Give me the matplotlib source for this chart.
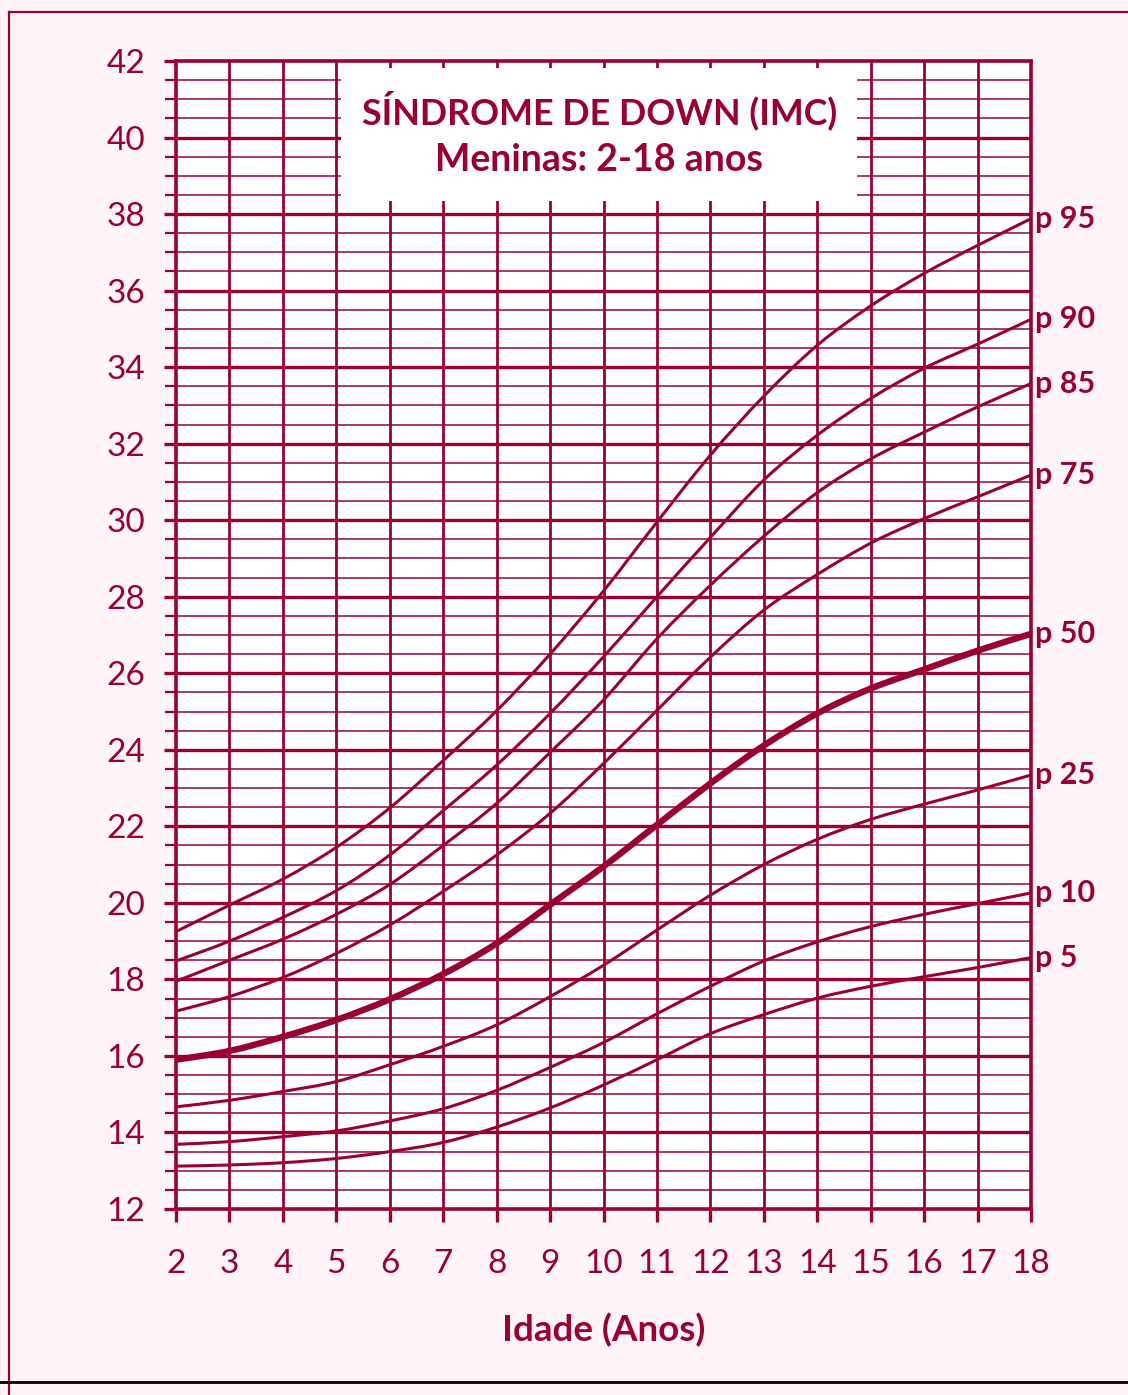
import matplotlib
matplotlib.use("Agg")
import matplotlib.pyplot as plt
from matplotlib.patches import Rectangle, PathPatch
from matplotlib.path import Path
from matplotlib.lines import Line2D
import numpy as np

# ---------------- data ----------------
ages = [2, 3, 4, 5, 6, 7, 8, 9, 10, 11, 12, 13, 14, 15, 16, 17, 18]
p95 = [19.25, 19.94, 20.62, 21.45, 22.48, 23.72, 25.02, 26.5, 28.15, 29.95, 31.7, 33.24, 34.57, 35.6, 36.45, 37.18, 37.88]
p90 = [18.48, 19.0, 19.62, 20.32, 21.25, 22.41, 23.6, 24.95, 26.43, 28.0, 29.55, 31.05, 32.22, 33.18, 33.97, 34.6, 35.25]
p85 = [17.95, 18.5, 19.05, 19.7, 20.48, 21.5, 22.6, 23.93, 25.3, 26.9, 28.3, 29.58, 30.72, 31.6, 32.3, 32.96, 33.57]
p75 = [17.17, 17.55, 18.05, 18.68, 19.42, 20.3, 21.25, 22.34, 23.64, 25.03, 26.42, 27.65, 28.58, 29.4, 30.04, 30.61, 31.18]
p50 = [15.9, 16.13, 16.5, 16.94, 17.48, 18.14, 18.94, 19.95, 20.95, 22.04, 23.12, 24.11, 24.95, 25.6, 26.1, 26.59, 27.03]
p25 = [14.67, 14.84, 15.07, 15.33, 15.77, 16.25, 16.81, 17.55, 18.37, 19.29, 20.2, 21.0, 21.66, 22.18, 22.58, 22.95, 23.34]
p10 = [13.69, 13.76, 13.89, 14.04, 14.3, 14.62, 15.1, 15.7, 16.35, 17.1, 17.82, 18.48, 18.98, 19.38, 19.7, 19.98, 20.26]
p5 = [13.12, 13.15, 13.21, 13.32, 13.5, 13.74, 14.14, 14.64, 15.24, 15.9, 16.58, 17.08, 17.51, 17.82, 18.07, 18.31, 18.57]

series = [p95, p90, p85, p75, p50, p25, p10, p5]
series_labels = ["p 95", "p 90", "p 85", "p 75", "p 50", "p 25", "p 10", "p 5"]

x_ticks = list(range(2, 19))
y_ticks = list(range(12, 43, 2))

title_lines = ["SÍNDROME DE DOWN (IMC)", "Meninas: 2-18 anos"]
xlabel = "Idade (Anos)"

# ---------------- style ----------------
RED = "#990033"
MINOR = "#A6234F"
BG = "#FFF5F9"
FONT = ["Lato", "DejaVu Sans"]
plt.rcParams["font.family"] = FONT

W, H = 1128, 1395
fig = plt.figure(figsize=(W / 100, H / 100), dpi=100)
fig.patch.set_facecolor(BG)

left, right, top, bottom = 176, 1031, 61, 1209
ax = fig.add_axes([left / W, 1 - bottom / H, (right - left) / W, (bottom - top) / H])
ax.set_facecolor("white")
ax.set_xlim(2, 18)
ax.set_ylim(12, 42)

# grid
for v in np.arange(12.5, 42, 0.5):
    if v % 2 == 0:
        ax.axhline(v, color=RED, lw=2.4, zorder=1)
    else:
        ax.axhline(v, color=MINOR, lw=1.4, zorder=1, alpha=0.9)
for xv in x_ticks[1:-1]:
    ax.axvline(xv, color=RED, lw=2.0, zorder=1)

# title box
ax.add_patch(Rectangle((5.08, 38.35), 14.75 - 5.08, 41.83 - 38.35,
                       facecolor="white", edgecolor="none", zorder=2))
ax.text(9.92, 40.72, title_lines[0], ha="center", va="center", fontsize=25.8,
        fontweight="bold", color=RED, zorder=3)
ax.text(9.92, 39.4, title_lines[1], ha="center", va="center", fontsize=27,
        fontweight="bold", color=RED, zorder=3)


def smooth_path(xs, ys):
    """Catmull-Rom spline through the data points, as cubic Bezier segments."""
    xs = np.asarray(xs, float)
    ys = np.asarray(ys, float)
    pts = np.column_stack([xs, ys])
    n = len(pts)
    verts = [pts[0]]
    codes = [Path.MOVETO]
    for i in range(n - 1):
        p0 = pts[i - 1] if i > 0 else pts[i]
        p1 = pts[i]
        p2 = pts[i + 1]
        p3 = pts[i + 2] if i + 2 < n else pts[i + 1]
        c1 = p1 + (p2 - p0) / 6.0
        c2 = p2 - (p3 - p1) / 6.0
        verts += [c1, c2, p2]
        codes += [Path.CURVE4] * 3
    return Path(verts, codes)


# curves
for s, lab in zip(series, series_labels):
    lw = 4.6 if lab == "p 50" else 2.2
    ax.add_patch(PathPatch(smooth_path(ages, s), facecolor="none",
                           edgecolor=RED, lw=lw, zorder=4, capstyle="butt"))
    ax.text(18.07, s[-1], lab, ha="left", va="center", fontsize=22,
            fontweight="bold", color=RED, clip_on=False)

# spines / ticks
for sp in ax.spines.values():
    sp.set_color(RED)
    sp.set_linewidth(2.6)
    sp.set_zorder(5)

ax.set_xticks(x_ticks)
ax.set_yticks(y_ticks)
ax.set_yticks(np.arange(12, 42.01, 0.5), minor=True)
ax.tick_params(axis="both", which="major", colors=RED, labelsize=24,
               length=9, width=2.4, direction="out")
ax.tick_params(axis="y", which="minor", colors=RED, length=8, width=1.6)
ax.tick_params(axis="x", which="major", pad=20)
ax.tick_params(axis="y", which="major", pad=13)
for lbl in ax.get_xticklabels() + ax.get_yticklabels():
    lbl.set_color(RED)

ax.set_xlabel(xlabel, fontsize=26.5, fontweight="bold", color=RED, labelpad=24)

# figure frame
fig.add_artist(Line2D([9 / W, 9 / W], [0, 1 - 12 / H], color=RED, lw=1.6))
fig.add_artist(Line2D([9 / W, 1], [1 - 12 / H, 1 - 12 / H], color=RED, lw=1.6))
fig.add_artist(Line2D([0, 1], [1 - 1382 / H, 1 - 1382 / H], color="black", lw=2.0))

fig.savefig("out.png", dpi=100, facecolor=BG)
